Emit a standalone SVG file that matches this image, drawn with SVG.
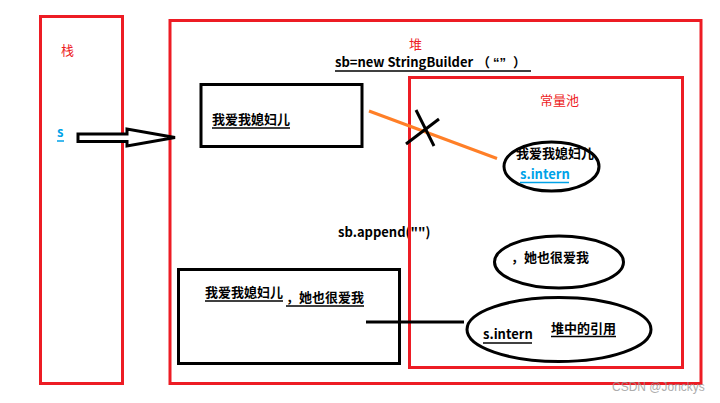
<svg xmlns="http://www.w3.org/2000/svg" width="720" height="403" viewBox="0 0 720 403">
<style>
.red{fill:none;stroke:#ed1c24;stroke-width:3}
.box{fill:none;stroke:#000;stroke-width:3}
.ell{fill:none;stroke:#000;stroke-width:3}
.t{font-family:"Noto Sans CJK SC","Open Sans",sans-serif;font-size:13px;fill:#000}
.b{font-weight:bold}
.rt{fill:#ed1c24}
.bt{fill:#00a2e8}
.ul{stroke:#000;stroke-width:1.5}
.ulb{stroke:#00a2e8;stroke-width:1.5}
</style>
<rect width="720" height="403" fill="#fff"/>
<g id="stack">
<rect class="red" x="40.5" y="16.5" width="82" height="367"/>
<text class="t rt" x="61" y="55">栈</text>
<text class="t b bt" x="57" y="137">s</text>
<line class="ulb" x1="57" y1="141" x2="64" y2="141"/>
</g>
<g id="heap">
<rect class="red" x="170" y="20.5" width="531" height="363"/>
<text class="t rt" x="409" y="49">堆</text>
<text class="t b" y="67"><tspan x="335">sb=new StringBuilder</tspan><tspan x="477">（</tspan><tspan x="493" font-family="'Liberation Sans',sans-serif">“”</tspan><tspan x="513">）</tspan></text>
<line class="ul" x1="335" y1="71" x2="531" y2="71"/>
<text class="t b" x="338" y="237">sb.append("")</text>
</g>
<g id="pool">
<rect class="red" x="409.5" y="77.5" width="273" height="290"/>
<text class="t rt" x="540" y="105">常量池</text>
</g>
<g id="box1">
<rect class="box" x="201" y="84.5" width="161" height="62"/>
<text class="t b" x="212" y="124">我爱我媳妇儿</text>
<line class="ul" x1="212" y1="128" x2="290" y2="128"/>
</g>
<g id="box2">
<rect class="box" x="178.5" y="269.5" width="221" height="94"/>
<text class="t b" x="205" y="297">我爱我媳妇儿</text>
<line class="ul" x1="205" y1="301" x2="283" y2="301"/>
<text class="t b" x="286" y="302">，她也很爱我</text>
<line class="ul" x1="286" y1="306" x2="364" y2="306"/>
</g>
<g id="ellipse1">
<ellipse class="ell" cx="551.5" cy="166.5" rx="47.5" ry="24.5"/>
<text class="t b" x="516" y="158">我爱我媳妇儿</text>
<text class="t b bt" x="520" y="179">s.intern</text>
<line class="ulb" x1="520" y1="182.5" x2="569" y2="182.5"/>
</g>
<g id="ellipse2">
<ellipse class="ell" cx="559" cy="262" rx="64.5" ry="26"/>
<text class="t b" x="511" y="262">，她也很爱我</text>
</g>
<g id="ellipse3">
<ellipse class="ell" cx="559" cy="329.5" rx="92" ry="32"/>
<text class="t b" x="483" y="339">s.intern</text>
<line class="ul" x1="483" y1="343" x2="532" y2="343"/>
<text class="t b" x="551" y="333">堆中的引用</text>
<line class="ul" x1="551" y1="336.5" x2="616" y2="336.5"/>
</g>
<g id="connectors">
<polygon points="78,134 127,134 127,129 175,137.5 127,146 127,141.5 78,141.5" fill="#fff" stroke="#000" stroke-width="3" stroke-linejoin="miter"/>
<line x1="369" y1="111" x2="497" y2="158.5" stroke="#ff7f27" stroke-width="3"/>
<line x1="416" y1="110" x2="434" y2="146" stroke="#000" stroke-width="3"/>
<line x1="406" y1="144" x2="439" y2="119" stroke="#000" stroke-width="3"/>
<line x1="366" y1="322" x2="464" y2="322" stroke="#000" stroke-width="3"/>
</g>
<text x="612" y="391" font-family="'Liberation Sans',sans-serif" font-size="12" fill="#999" opacity="0.8">CSDN @Jonckys</text>
</svg>
